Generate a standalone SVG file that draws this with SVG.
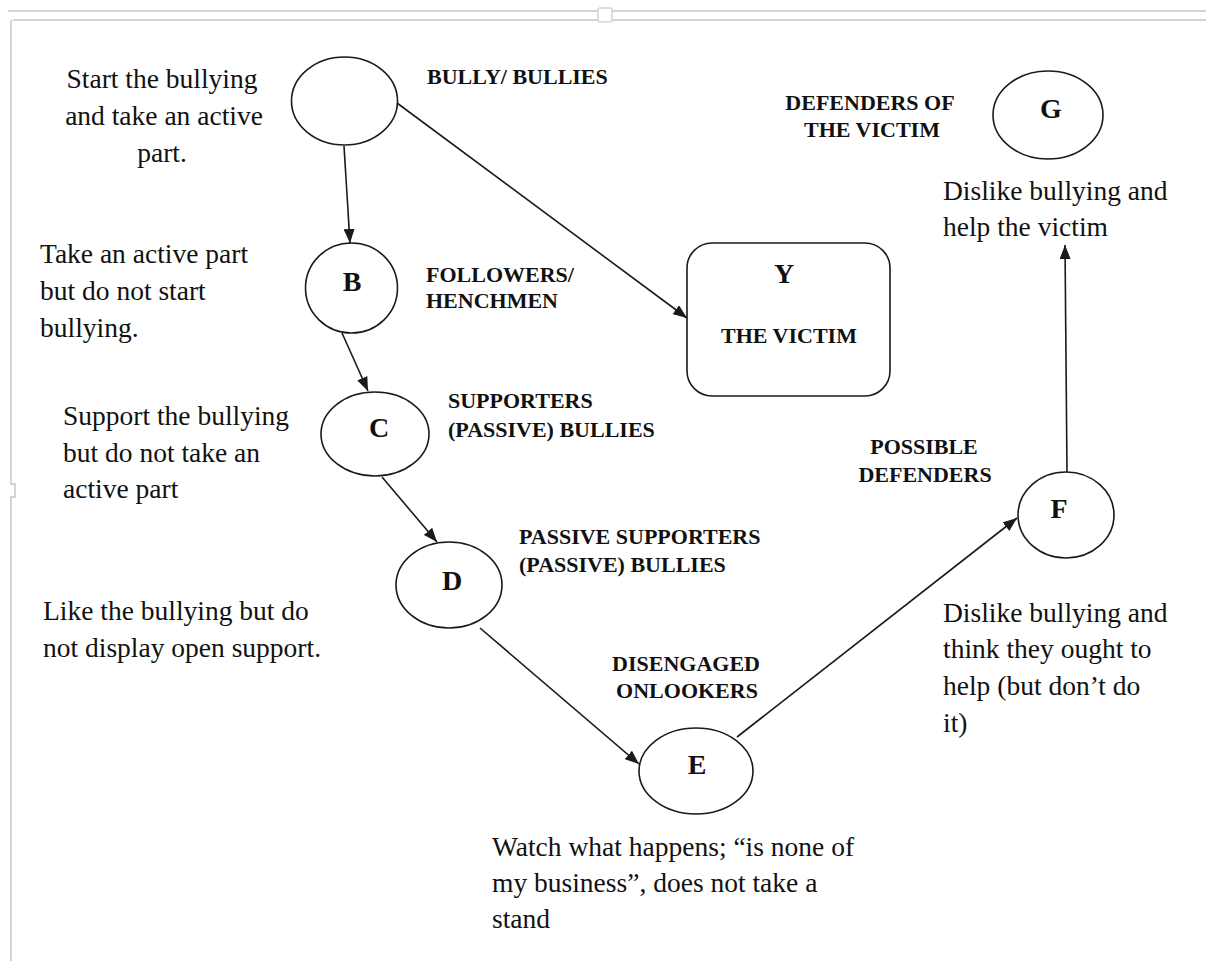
<svg xmlns="http://www.w3.org/2000/svg" width="1206" height="961" viewBox="0 0 1206 961">
<style>
  .bg{fill:#ffffff}
  .frame{stroke:#d4d4d4;stroke-width:2;fill:none}
  .shape{fill:#ffffff;stroke:#1a1a1a;stroke-width:1.6}
  .conn{stroke:#1a1a1a;stroke-width:1.6;fill:none;marker-end:url(#arrow)}
  .desc{font-family:"Liberation Serif","Times New Roman",serif;font-size:27.5px;fill:#111}
  .lbl{font-family:"Liberation Serif","Times New Roman",serif;font-size:22px;font-weight:bold;fill:#111}
  .letter{font-family:"Liberation Serif","Times New Roman",serif;font-size:28px;font-weight:bold;fill:#111;text-anchor:middle}
  .mid{text-anchor:middle}
</style>
<defs>
  <marker id="arrow" markerUnits="userSpaceOnUse" markerWidth="14" markerHeight="11" refX="14" refY="5.5" orient="auto">
    <path d="M0,0 L14,5.5 L0,11 z" fill="#1a1a1a"/>
  </marker>
</defs>
<rect class="bg" x="0" y="0" width="1206" height="961"/>

<g id="frame">
  <path class="frame" d="M8,11 H1206"/>
  <path class="frame" d="M13,20 H1206"/>
  <path class="frame" d="M11,20 V484 H15 V497 H11 V961"/>
  <rect x="598" y="8" width="14" height="14" rx="2" fill="#ffffff" stroke="#d4d4d4" stroke-width="1.5"/>
</g>

<g id="connectors">
  <line class="conn" x1="344" y1="146" x2="350" y2="243"/>
  <line class="conn" x1="397" y1="103" x2="687" y2="318"/>
  <line class="conn" x1="342" y1="333" x2="368" y2="391"/>
  <line class="conn" x1="382" y1="477" x2="437" y2="542"/>
  <line class="conn" x1="480" y1="628" x2="639" y2="764"/>
  <line class="conn" x1="737" y1="737" x2="1017" y2="518"/>
  <line class="conn" x1="1067" y1="472" x2="1065" y2="245"/>
</g>

<g id="node-A">
  <ellipse class="shape" cx="344.5" cy="101" rx="53" ry="44"/>
  <text class="lbl" x="427" y="84">BULLY/ BULLIES</text>
  <text class="desc mid" x="162" y="88">Start the bullying</text>
  <text class="desc mid" x="164" y="125">and take an active</text>
  <text class="desc mid" x="162" y="162">part.</text>
</g>

<g id="node-B">
  <ellipse class="shape" cx="351.5" cy="288" rx="46" ry="45"/>
  <text class="letter" x="352" y="291">B</text>
  <text class="lbl" x="426" y="282">FOLLOWERS/</text>
  <text class="lbl" x="426" y="308">HENCHMEN</text>
  <text class="desc" x="40" y="263">Take an active part</text>
  <text class="desc" x="40" y="300">but do not start</text>
  <text class="desc" x="40" y="337">bullying.</text>
</g>

<g id="node-C">
  <ellipse class="shape" cx="375" cy="434" rx="54" ry="42"/>
  <text class="letter" x="379" y="437">C</text>
  <text class="lbl" x="448" y="408">SUPPORTERS</text>
  <text class="lbl" x="448" y="437">(PASSIVE) BULLIES</text>
  <text class="desc" x="63" y="425">Support the bullying</text>
  <text class="desc" x="63" y="462">but do not take an</text>
  <text class="desc" x="63" y="498">active part</text>
</g>

<g id="node-D">
  <ellipse class="shape" cx="449" cy="585" rx="53" ry="43"/>
  <text class="letter" x="452" y="590">D</text>
  <text class="lbl" x="519" y="544">PASSIVE SUPPORTERS</text>
  <text class="lbl" x="519" y="572">(PASSIVE) BULLIES</text>
  <text class="desc" x="43" y="620">Like the bullying but do</text>
  <text class="desc" x="43" y="657">not display open support.</text>
</g>

<g id="node-E">
  <ellipse class="shape" cx="696" cy="771" rx="57" ry="43"/>
  <text class="letter" x="697" y="774">E</text>
  <text class="lbl mid" x="686" y="671">DISENGAGED</text>
  <text class="lbl mid" x="687" y="698">ONLOOKERS</text>
  <text class="desc" x="492" y="856">Watch what happens; “is none of</text>
  <text class="desc" x="492" y="892">my business”, does not take a</text>
  <text class="desc" x="492" y="928">stand</text>
</g>

<g id="node-F">
  <ellipse class="shape" cx="1066" cy="515" rx="48" ry="43"/>
  <text class="letter" x="1059" y="518">F</text>
  <text class="lbl mid" x="924" y="454">POSSIBLE</text>
  <text class="lbl mid" x="925" y="482">DEFENDERS</text>
  <text class="desc" x="943" y="622">Dislike bullying and</text>
  <text class="desc" x="943" y="658">think they ought to</text>
  <text class="desc" x="943" y="695">help (but don’t do</text>
  <text class="desc" x="943" y="732">it)</text>
</g>

<g id="node-G">
  <ellipse class="shape" cx="1048" cy="115" rx="55" ry="44"/>
  <text class="letter" x="1051" y="118">G</text>
  <text class="lbl mid" x="870" y="110">DEFENDERS OF</text>
  <text class="lbl mid" x="872" y="137">THE VICTIM</text>
  <text class="desc" x="943" y="200">Dislike bullying and</text>
  <text class="desc" x="943" y="236">help the victim</text>
</g>

<g id="node-Y">
  <rect class="shape" x="687" y="243" width="203" height="153" rx="25" ry="25"/>
  <text class="letter" x="784" y="283">Y</text>
  <text class="lbl mid" x="789" y="343">THE VICTIM</text>
</g>
</svg>
